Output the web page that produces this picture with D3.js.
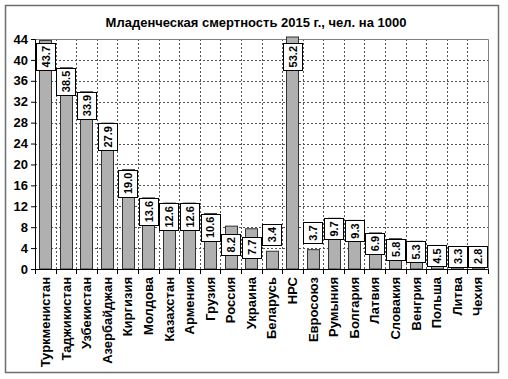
<!DOCTYPE html>
<html lang="ru">
<head>
<meta charset="UTF-8">
<title>Младенческая смертность 2015</title>
<script src="https://cdn.jsdelivr.net/npm/d3@7"></script>
<style>
  body { margin: 0; background: #fff; }
  svg { font-family: "Liberation Sans", Arial, sans-serif; }
</style>
</head>
<body>
<svg id="chart" width="508" height="379"></svg>
<script>
const countries = ["Туркменистан", "Таджикистан", "Узбекистан", "Азербайджан", "Киргизия",
  "Молдова", "Казахстан", "Армения", "Грузия", "Россия", "Украина", "Беларусь", "НРС",
  "Евросоюз", "Румыния", "Болгария", "Латвия", "Словакия", "Венгрия", "Польша", "Литва", "Чехия"];
const rates = [43.7, 38.5, 33.9, 27.9, 19.0, 13.6, 12.6, 12.6, 10.6, 8.2, 7.7, 3.4, 53.2,
  3.7, 9.7, 9.3, 6.9, 5.8, 5.3, 4.5, 3.3, 2.8];
const yTicks = [0, 4, 8, 12, 16, 20, 24, 28, 32, 36, 40, 44];
const title = "Младенческая смертность 2015 г., чел. на 1000";

// labels that sit above their bar instead of inside it,
// and two that were nudged a bit lower in the original
const labelsAbove = new Set(["Беларусь", "Евросоюз"]);
const labelsLower = new Set(["Россия", "Украина"]);

const width = 508, height = 379;
const margin = { top: 39, right: 20, bottom: 110, left: 35 };
const plotW = width - margin.left - margin.right;
const plotH = height - margin.top - margin.bottom;

const svg = d3.select("#chart");

// outer frame
svg.append("rect")
  .attr("x", 5.5).attr("y", 5.5)
  .attr("width", 493).attr("height", 367)
  .attr("fill", "#fff")
  .attr("stroke", "#6e6e6e")
  .attr("stroke-width", 1.5);

svg.append("text")
  .attr("x", 256).attr("y", 27)
  .attr("text-anchor", "middle")
  .attr("font-size", 13).attr("font-weight", "bold")
  .text(title);

const g = svg.append("g").attr("transform", `translate(${margin.left},${margin.top})`);

const x = d3.scaleBand().domain(countries).range([0, plotW]).padding(0);
const y = d3.scaleLinear().domain([0, 44]).range([plotH, 0]);

// grid
g.append("g")
  .selectAll("line")
  .data(yTicks.filter(t => t > 0 && t < 44))
  .join("line")
  .attr("x1", 0).attr("x2", plotW)
  .attr("y1", d => Math.round(y(d)) + 0.5).attr("y2", d => Math.round(y(d)) + 0.5)
  .attr("stroke", "#555").attr("stroke-dasharray", "2,2");

g.append("g")
  .selectAll("line")
  .data(countries.slice(1))
  .join("line")
  .attr("x1", d => Math.round(x(d)) + 0.5).attr("x2", d => Math.round(x(d)) + 0.5)
  .attr("y1", 0).attr("y2", plotH)
  .attr("stroke", "#555").attr("stroke-dasharray", "2,2");

// plot border top / right
g.append("path")
  .attr("d", `M0,0.5H${plotW + 0.5}V${plotH}`)
  .attr("fill", "none").attr("stroke", "#808080");

// bars
const barW = 12;
const topLimit = -2;
g.append("g")
  .selectAll("rect")
  .data(countries)
  .join("rect")
  .attr("x", d => Math.round(x(d) + x.bandwidth() / 2 - barW / 2) + 0.5)
  .attr("y", (d, i) => Math.max(y(rates[i]), topLimit))
  .attr("width", barW)
  .attr("height", (d, i) => plotH - Math.max(y(rates[i]), topLimit))
  .attr("fill", "#b0b0b0")
  .attr("stroke", "#333")
  .attr("stroke-width", 1);

// axes
const yAxis = g.append("g")
  .call(d3.axisLeft(y).tickValues(yTicks).tickSize(4).tickPadding(3).tickFormat(d3.format("d")));
yAxis.select(".domain").attr("stroke", "#000");
yAxis.selectAll("text").attr("font-size", 13).attr("font-weight", "bold")
  .attr("font-family", "Liberation Sans, Arial, sans-serif").attr("fill", "#000");

const xAxis = g.append("g").attr("transform", `translate(0,${plotH})`);
xAxis.append("line")
  .attr("x1", 0).attr("x2", plotW).attr("y1", 0.5).attr("y2", 0.5)
  .attr("stroke", "#000");
xAxis.selectAll("line.tick")
  .data(d3.range(countries.length + 1))
  .join("line")
  .attr("class", "tick")
  .attr("x1", i => Math.round(i * x.step()) + 0.5).attr("x2", i => Math.round(i * x.step()) + 0.5)
  .attr("y1", 0).attr("y2", 5)
  .attr("stroke", "#000");
xAxis.selectAll("text")
  .data(countries)
  .join("text")
  .attr("transform", d => `translate(${x(d) + x.bandwidth() / 2},8) rotate(-90)`)
  .attr("text-anchor", "end")
  .attr("dy", "0.36em")
  .attr("font-size", 13).attr("font-weight", "bold")
  .text(d => d);

// data labels
const labels = g.append("g")
  .selectAll("g")
  .data(countries)
  .join("g");

labels.each(function (d, i) {
  const lg = d3.select(this);
  const box = lg.append("rect");
  const txt = lg.append("text")
    .attr("font-size", 11).attr("font-weight", "bold")
    .attr("text-anchor", "middle")
    .attr("dy", "0.36em")
    .text(rates[i].toFixed(1));
  const len = txt.node().getComputedTextLength();
  const h = len + 6, w = 19;
  const barTop = y(rates[i]);
  let top;
  if (labelsAbove.has(d)) {
    top = barTop - 6 - h;
  } else {
    top = Math.max(barTop, 4);
    if (labelsLower.has(d)) top += 8;
    if (top + h > plotH - 2) top = plotH - 2 - h;
  }
  const cx = x(d) + x.bandwidth() / 2;
  box.attr("x", Math.round(cx - w / 2) + 0.5).attr("y", Math.round(top) + 0.5)
    .attr("width", w).attr("height", Math.round(h))
    .attr("fill", "#fff").attr("stroke", "#000");
  txt.attr("transform", `translate(${cx + 0.5},${top + h / 2}) rotate(-90)`);
});
</script>
</body>
</html>
